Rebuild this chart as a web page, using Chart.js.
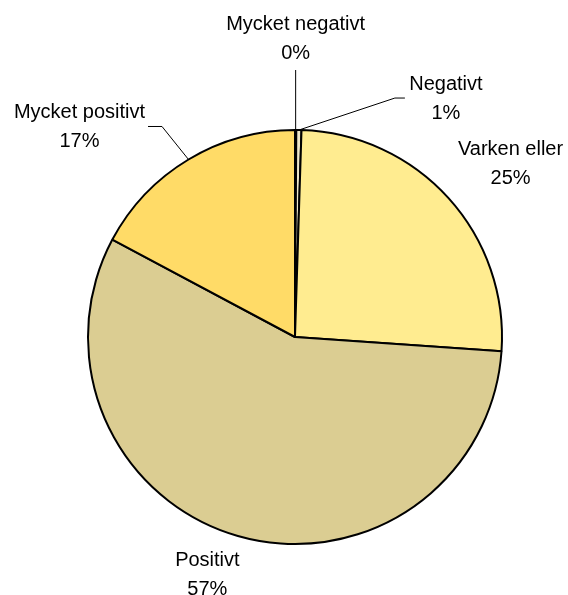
<!DOCTYPE html>
<html>
<head>
<meta charset="utf-8">
<script src="https://cdn.jsdelivr.net/npm/chart.js@4/dist/chart.umd.min.js"></script>
<style>
  html, body { margin: 0; padding: 0; background: #ffffff; }
  #c { display: block; }
</style>
</head>
<body>
<canvas id="c" width="568" height="595"></canvas>
<script>
// ---- data ----
const categories = ["Mycket negativt", "Negativt", "Varken eller", "Positivt", "Mycket positivt"];
const values = [0.1, 0.4, 25.6, 56.7, 17.2];
const percentLabels = ["0%", "1%", "25%", "57%", "17%"];
const colors = ["#E8DDB0", "#EEE7C9", "#FFEC90", "#DBCD92", "#FFDB67"];

// ---- label layout (offset of label centre from slice's outer mid point; leader points relative to label centre) ----
const labelOffsets = [[0, -91.5], [147, -31.5], [62, -34], [-30.5, 39.5], [-109, -32.5]];
const leaderPoints = [
  [[0, 31.5]],
  [[-51, -0.5], [-41, -0.5]],
  null,
  null,
  [[82.5, -0.5], [68.5, -0.5]]
];

const labelPlugin = {
  id: 'pieLabels',
  afterDatasetsDraw(chart) {
    const ctx = chart.ctx;
    const meta = chart.getDatasetMeta(0);
    ctx.save();
    ctx.font = '20px "Liberation Sans", Arial, sans-serif';
    ctx.fillStyle = '#000000';
    ctx.textAlign = 'center';
    ctx.textBaseline = 'middle';
    meta.data.forEach((arc, i) => {
      const p = arc.getProps(['x', 'y', 'startAngle', 'endAngle', 'outerRadius'], true);
      const mid = (p.startAngle + p.endAngle) / 2;
      const ex = p.x + Math.cos(mid) * p.outerRadius;
      const ey = p.y + Math.sin(mid) * p.outerRadius;
      const lx = ex + labelOffsets[i][0];
      const ly = ey + labelOffsets[i][1];
      if (leaderPoints[i]) {
        ctx.beginPath();
        ctx.strokeStyle = '#000000';
        ctx.lineWidth = 1;
        ctx.moveTo(ex, ey);
        leaderPoints[i].forEach(pt => ctx.lineTo(lx + pt[0], ly + pt[1]));
        ctx.stroke();
      }
      ctx.fillText(categories[i], lx, ly - 14.5);
      ctx.fillText(percentLabels[i], lx, ly + 14.5);
    });
    ctx.restore();
  }
};

new Chart(document.getElementById('c'), {
  type: 'pie',
  data: {
    labels: categories,
    datasets: [{
      data: values,
      backgroundColor: colors,
      borderColor: '#000000',
      borderWidth: 2,
      radius: 207
    }]
  },
  options: {
    responsive: false,
    animation: false,
    layout: { padding: { left: 22, right: 0, top: 79, bottom: 0 } },
    plugins: {
      legend: { display: false },
      tooltip: { enabled: false },
      title: { display: false }
    }
  },
  plugins: [labelPlugin]
});
</script>
</body>
</html>
